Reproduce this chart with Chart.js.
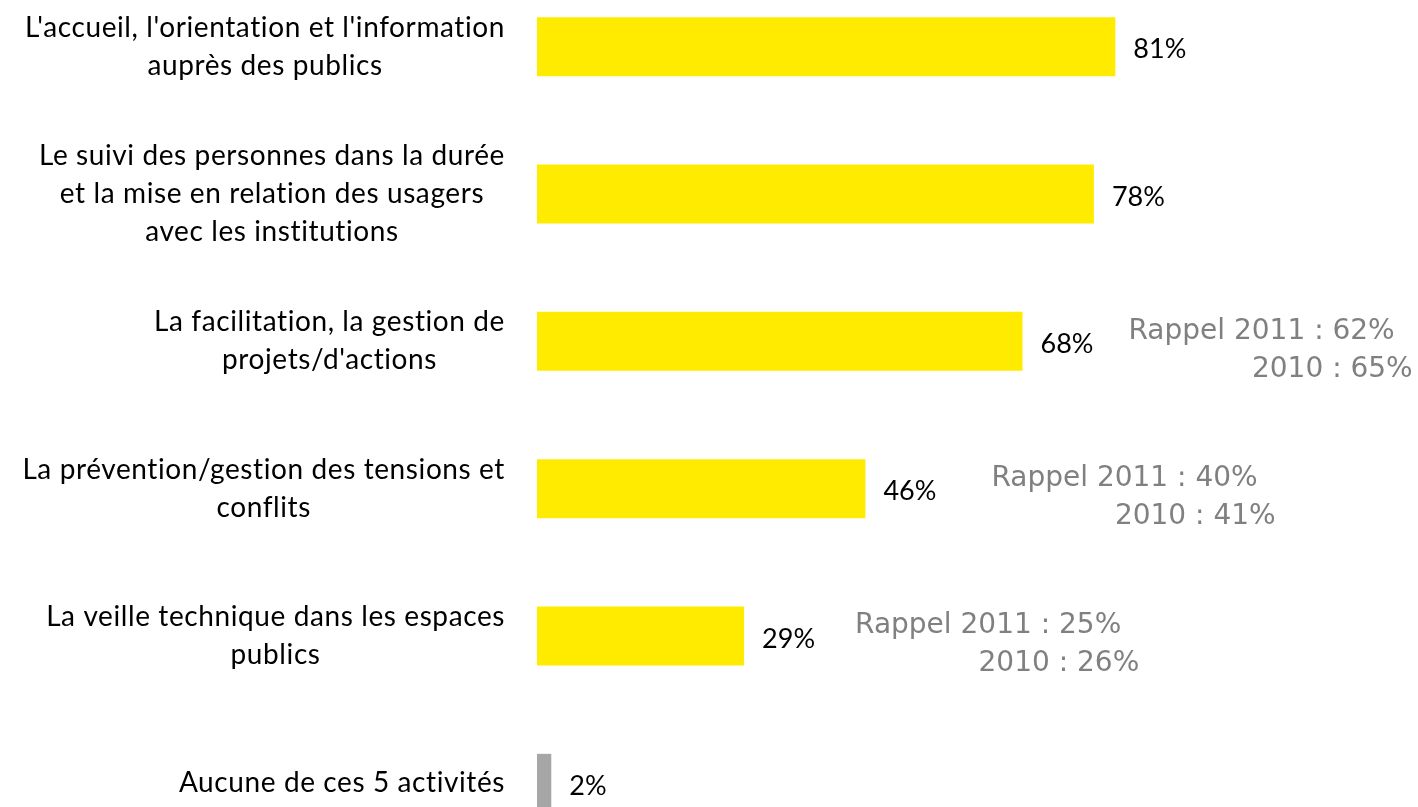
<!DOCTYPE html>
<html>
<head>
<meta charset="utf-8">
<script src="https://cdn.jsdelivr.net/npm/chart.js@4"></script>
<style>
  html, body { margin: 0; padding: 0; background: #fff; overflow: hidden; }
  #wrap { position: relative; width: 1418px; height: 807px; overflow: hidden; }
  #chart { position: absolute; left: 0; top: -27px; }
</style>
</head>
<body>
<div id="wrap"><canvas id="chart" width="1418" height="884"></canvas></div>
<script>
// categories (each one split on lines the way the picture wraps them)
var categories = [
  ["L'accueil, l'orientation et l'information", "auprès des publics"],
  ["Le suivi des personnes dans la durée", "et la mise en relation des usagers", "avec les institutions"],
  ["La facilitation, la gestion de", "projets/d'actions"],
  ["La prévention/gestion des tensions et", "conflits"],
  ["La veille technique dans les espaces", "publics"],
  ["Aucune de ces 5 activités"]
]
var values = [81, 78, 68, 46, 29, 2]
// reminders of earlier years, null where there is none
var rappel2011 = [null, null, 62, 40, 25, null]
var rappel2010 = [null, null, 65, 41, 26, null]

var yellow = "rgb(255,235,0)"
var grey = "rgb(166,166,166)"

// where the reminder text starts, measured from the bar end
var rappelDx = [0, 0, 106, 126, 111, 0]

var labelsPlugin = {
  id: "labelsPlugin",
  afterDatasetsDraw: function(chart) {
    var ctx = chart.ctx
    var xs = chart.scales.x
    var ys = chart.scales.y
    ctx.save()
    ctx.textBaseline = "middle"
    for (var i = 0; i < categories.length; i++) {
      var cy = ys.getPixelForValue(i)
      // category label on the left, lines centred together, block right aligned
      ctx.font = "28px Lato"
      ctx.letterSpacing = "0.6px"
      ctx.fillStyle = "#000"
      var lines = categories[i]
      var w = 0
      for (var j = 0; j < lines.length; j++) w = Math.max(w, ctx.measureText(lines[j]).width)
      var right = 505
      var lh = 38
      var top = cy - (lines.length - 1) * lh / 2
      ctx.textAlign = "center"
      for (var j = 0; j < lines.length; j++) {
        ctx.fillText(lines[j], right - w / 2, top + j * lh)
      }
      // value next to the bar
      ctx.font = "27px Lato"
      ctx.letterSpacing = "0px"
      var xe = xs.getPixelForValue(values[i])
      ctx.textAlign = "left"
      ctx.fillText(values[i] + "%", xe + 18, cy + 3)
      // reminder of 2011 / 2010
      if (rappel2011[i] != null) {
        ctx.font = "28px 'DejaVu Sans'"
        ctx.fillStyle = "#808080"
        var l1 = "Rappel 2011 : " + rappel2011[i] + "%"
        var l2 = "2010 : " + rappel2010[i] + "%"
        var rx = xe + rappelDx[i]
        var w1 = ctx.measureText(l1).width
        ctx.textAlign = "left"
        ctx.fillText(l1, rx, cy - 10)
        ctx.textAlign = "right"
        ctx.fillText(l2, rx + w1 + 18, cy + 28)
      }
    }
    ctx.restore()
  }
}

new Chart(document.getElementById("chart"), {
  type: "bar",
  data: {
    labels: categories,
    datasets: [{
      data: values,
      backgroundColor: values.map(function(v, i) { return i == values.length - 1 ? grey : yellow }),
      barPercentage: 0.4,
      categoryPercentage: 1,
      borderWidth: 0,
    }],
  },
  options: {
    indexAxis: "y",
    responsive: false,
    devicePixelRatio: 1,
    animation: false,
    layout: { padding: { left: 537, right: 167, top: 0, bottom: 0 } },
    plugins: {
      legend: { display: false },
      tooltip: { enabled: false },
    },
    scales: {
      x: { display: false, min: 0, max: 100 },
      y: { display: false },
    },
  },
  plugins: [labelsPlugin],
})
</script>
</body>
</html>
